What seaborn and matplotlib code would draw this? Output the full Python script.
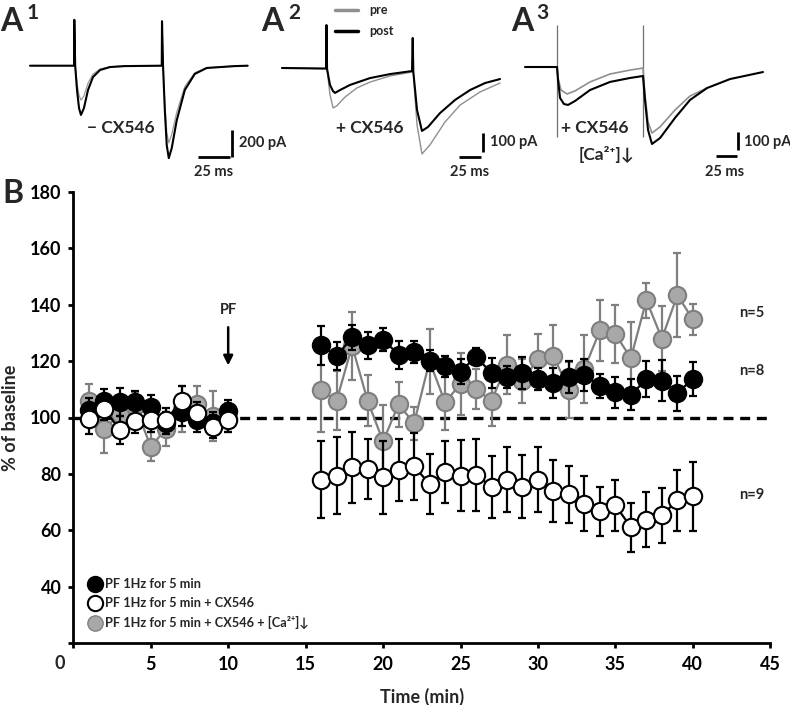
import numpy as np
import pandas as pd
import matplotlib
matplotlib.use("Agg")
import matplotlib.pyplot as plt
from matplotlib.lines import Line2D
import seaborn as sns

# ---------------- data: panel B ----------------
time_pre = [1, 2, 3, 4, 5, 6, 7, 8, 9, 10]
time_post = list(range(16, 41))

black_pre = [102.8, 106.0, 105.4, 105.4, 103.9, 98.0, 101.9, 99.0, 98.0, 102.3]
black_pre_err = [4, 4, 5, 4, 4, 4, 5, 4, 4, 4]
white_pre = [99.3, 103.0, 95.6, 98.6, 99.0, 99.2, 106.0, 101.5, 96.8, 99.0]
white_pre_err = [5, 4, 5, 4, 4, 4, 5, 4, 4, 4]
gray_pre = [106.0, 95.9, 101.3, 104.0, 89.7, 96.0, 103.0, 104.7, 100.5, 100.0]
gray_pre_err = [6, 8.5, 6, 5, 5, 6, 8, 6.5, 9, 5]

black_post = [125.6, 121.8, 128.4, 125.6, 127.6, 122.3, 123.2, 120.2, 118.1, 116.3,
              121.6, 115.7, 114.3, 115.7, 113.7, 112.1, 114.5, 115.1, 111.3, 108.9,
              108.0, 113.6, 113.1, 108.6, 113.8]
black_post_err = [6.8, 5, 4.4, 4.7, 4.1, 5, 4, 3.8, 3.8, 4.5, 3, 5.3, 4, 5.7, 4,
                  5.3, 5.7, 5.6, 4.3, 5.5, 5.5, 6.3, 7.3, 6.3, 6]
gray_post = [109.8, 106.0, 125.4, 106.0, 91.5, 104.7, 97.9, 120.0, 105.4, 111.9,
             110.1, 106.0, 118.8, 112.9, 120.8, 121.8, 109.8, 117.3, 130.9, 129.5,
             121.1, 141.6, 128.0, 143.4, 134.8]
gray_post_err = [15, 10.6, 12, 9, 13, 8, 6, 11.5, 10, 11, 7, 9, 10.5, 7.7, 9, 11,
                 10, 12, 10.7, 10.3, 12.8, 6.2, 11.5, 15, 5.6]
white_post = [78.0, 79.4, 82.4, 81.8, 78.8, 81.4, 82.7, 76.4, 80.6, 79.4, 79.6, 75.5,
              78.0, 75.5, 78.0, 73.9, 72.7, 69.4, 66.8, 68.8, 61.1, 63.8, 65.3, 70.6, 72.0]
white_post_err = [13.6, 13.6, 12.6, 10.6, 13, 11, 11.9, 10.5, 10.9, 12.7, 12.6, 11,
                  11.7, 11.2, 11.5, 10.9, 10.2, 9.7, 8.7, 9.2, 8.7, 9.8, 9.8, 10.7, 12.3]

legend_labels = ["PF 1Hz for 5 min", "PF 1Hz for 5 min + CX546",
                 "PF 1Hz for 5 min + CX546 + [Ca²⁺]↓"]
n_labels = ["n=5", "n=8", "n=9"]
n_label_y = [137.0, 116.5, 72.5]
x_ticks = [0, 5, 10, 15, 20, 25, 30, 35, 40, 45]
y_ticks = [20, 40, 60, 80, 100, 120, 140, 160, 180]

# ---------------- data: traces (ms, pA) ----------------
A1_t = [0, 34.4, 34.6, 35.3, 36.7, 38.3, 39.8, 42.1, 45.3, 49.2, 54.7, 62.5, 74.0,
        102.9, 103.1, 103.9, 105.3, 106.8, 108.4, 110.7, 114.6, 120.9, 128.7, 138.0, 160.0, 170.0]
A1_black = [0, 0, 340, 0, -180, -315, -365, -315, -180, -84, -32, -10, -3,
            0, 330, 0, -330, -590, -685, -610, -405, -180, -61, -17, -3, 0]
A1_gray = [0, 0, 330, 0, -130, -220, -255, -225, -130, -62, -25, -8, -2,
           0, 320, 0, -280, -495, -572, -510, -345, -155, -52, -15, -2, 0]

A2_t_black = [0, 50.0, 50.5, 51.2, 54.5, 57.9, 60.2, 65.9, 77.3, 100.0, 122.7, 147.7,
              148.5, 149.2, 153.4, 159.0, 165.9, 179.5, 196.6, 213.6, 230.7, 247.7]
A2_black = [0, -3, 226, -5, -89, -121, -131, -116, -89, -53, -32, -16,
            158, -21, -221, -331, -310, -237, -168, -116, -79, -58]
A2_t_gray = [0, 50.0, 50.5, 51.2, 54.5, 58.0, 62.0, 71.6, 85.0, 100.0, 122.7, 147.7,
             148.5, 149.2, 153.4, 159.0, 168.0, 185.2, 202.3, 225.0, 247.7]
A2_gray = [0, -3, 220, -8, -140, -210, -200, -153, -105, -74, -42, -21,
           150, -25, -300, -452, -405, -284, -195, -126, -79]

A3_t_black = [0, 38.1, 39.3, 41.7, 46.4, 51.2, 59.5, 77.4, 101.2, 125.0, 140.4, 142.8,
              146.4, 151.1, 160.7, 178.5, 196.4, 216.6, 244.0, 283.2]
A3_black = [0, 0, -72, -172, -206, -211, -189, -128, -83, -61, -50, -183,
            -350, -428, -395, -283, -183, -117, -67, -28]
A3_t_gray = [38.1, 39.3, 42.8, 50.0, 59.5, 77.4, 101.2, 125.0, 140.4, 142.8, 146.4,
             151.1, 160.7, 178.5, 196.4, 216.6]
A3_gray = [0, -61, -128, -150, -133, -83, -39, -17, -6, -156, -306, -367, -333,
           -239, -161, -117]
A3_artifact_t = [38.1, 140.4]

# ---------------- style ----------------
sns.set_theme(style="ticks")
plt.rcParams['font.family'] = ['Lato', 'DejaVu Sans']
plt.rcParams['font.weight'] = 'bold'
plt.rcParams['axes.labelweight'] = 'bold'

W, H = 790, 705
fig = plt.figure(figsize=(W / 100, H / 100), dpi=100)

BLACK = "#000000"
GRAY_FACE = "#a8a8a8"
GRAY_EDGE = "#7f7f7f"

# ---------------- panel B ----------------
ax = fig.add_axes([73.3 / W, (H - 643) / H, 697 / W, 451 / H])

def make_df(pre, pre_err, post, post_err):
    d1 = pd.DataFrame({"t": time_pre, "v": pre, "e": pre_err, "seg": "pre"})
    d2 = pd.DataFrame({"t": time_post, "v": post, "e": post_err, "seg": "post"})
    return pd.concat([d1, d2], ignore_index=True)

df_black = make_df(black_pre, black_pre_err, black_post, black_post_err)
df_white = make_df(white_pre, white_pre_err, white_post, white_post_err)
df_gray = make_df(gray_pre, gray_pre_err, gray_post, gray_post_err)

ax.hlines(100, 0, 45, colors="black", linestyles=(0, (3, 2)), lw=2.4, zorder=1)

series = [
    (df_gray, GRAY_FACE, GRAY_EDGE, GRAY_EDGE, 2),
    (df_black, BLACK, BLACK, BLACK, 4),
    (df_white, "white", BLACK, BLACK, 6),
]
for d, face, edge, ecol, z in series:
    ax.errorbar(d["t"], d["v"], yerr=d["e"], fmt="none", ecolor=ecol,
                elinewidth=1.6, capsize=2.6, capthick=1.6, zorder=z - 0.5)
    sns.lineplot(data=d, x="t", y="v", units="seg", estimator=None, ax=ax,
                 color=edge, lw=1.6, marker="o", markersize=12.5,
                 markerfacecolor=face, markeredgecolor=edge, markeredgewidth=1.5,
                 zorder=z, legend=False)

ax.set_xlim(0, 45)
ax.set_ylim(20, 180)
ax.set_xticks(x_ticks)
ax.set_xticklabels([""] + [str(v) for v in x_ticks[1:]])
ax.set_yticks(y_ticks)
ax.set_yticklabels([""] + [str(v) for v in y_ticks[1:]])
ax.text(-0.86, -0.045, "0", transform=ax.get_xaxis_transform(), ha="center",
        va="center", fontsize=13, fontweight="bold")
for s in ["top", "right"]:
    ax.spines[s].set_visible(False)
for s in ["left", "bottom"]:
    ax.spines[s].set_linewidth(2.0)
    ax.spines[s].set_color("black")
ax.tick_params(axis="both", direction="out", length=3.5, width=2.0, colors="black",
               labelsize=13, pad=5)
ax.tick_params(axis="x", pad=6)
for lab in ax.get_xticklabels() + ax.get_yticklabels():
    lab.set_fontweight("bold")
ax.set_xlabel("Time (min)", fontsize=13, fontweight="bold")
ax.set_ylabel("% of baseline", fontsize=13, fontweight="bold")
ax.xaxis.set_label_coords(0.5, -0.1)
ax.yaxis.set_label_coords(-0.078, 0.5)
ax.set_facecolor("white")

ax.text(10, 138, "PF", ha="center", va="center", fontsize=10.5, fontweight="bold")
ax.annotate("", xy=(10, 117.5), xytext=(10, 133),
            arrowprops=dict(arrowstyle="-|>", color="black", lw=1.8, mutation_scale=14))
for lab, yv in zip(n_labels, n_label_y):
    ax.text(43.0, yv, lab, ha="left", va="center", fontsize=10.5, fontweight="bold")

handles = [
    Line2D([], [], ls="none", marker="o", markersize=11, mfc=BLACK, mec=BLACK, mew=1.5),
    Line2D([], [], ls="none", marker="o", markersize=11, mfc="white", mec=BLACK, mew=1.5),
    Line2D([], [], ls="none", marker="o", markersize=11, mfc=GRAY_FACE, mec=GRAY_EDGE, mew=1.0),
]
leg = ax.legend(handles, legend_labels, loc="lower left", bbox_to_anchor=(0.022, 0.03),
                frameon=False, fontsize=9.2, handlelength=1.0, handletextpad=0.3,
                labelspacing=0.55, borderaxespad=0, borderpad=0)
for t in leg.get_texts():
    t.set_fontweight("bold")

fig.text(2 / W, 1 - 203 / H, "B", fontsize=23, fontweight="bold", ha="left", va="baseline")

# ---------------- panel A traces ----------------
def trace_axes(x0, y0, ms_pp, pa_pp):
    a = fig.add_axes([0, (H - 190) / H, 1, 190 / H])
    a.set_xlim(-x0 * ms_pp, (W - x0) * ms_pp)
    a.set_ylim(-(190 - y0) * pa_pp, y0 * pa_pp)
    a.axis("off")
    a.patch.set_alpha(0)
    return a

def scale_bar(a, xv, yv_top, yv_bot, xh0, xh1, yh, txt_v, tv_xy, txt_h, th_xy):
    a.plot([xv, xv], [yv_top, yv_bot], color="black", lw=2.0, solid_capstyle="butt")
    a.plot([xh0, xh1], [yh, yh], color="black", lw=2.0, solid_capstyle="butt")
    a.text(tv_xy[0], tv_xy[1], txt_v, ha="left", va="center", fontsize=10.5, fontweight="bold")
    a.text(th_xy[0], th_xy[1], txt_h, ha="center", va="center", fontsize=10.5, fontweight="bold")

# A1
a1 = trace_axes(30, 65.7, 0.781, 7.41)
sns.lineplot(x=A1_t, y=A1_gray, ax=a1, color="#9a9a9a", lw=0.9, sort=False, estimator=None)
sns.lineplot(x=A1_t, y=A1_black, ax=a1, color="black", lw=1.5, sort=False, estimator=None)
a1.text(70.7, -462, "− CX546", ha="center", va="center", fontsize=12.5, fontweight="bold")
scale_bar(a1, 157.8, -476, -676, 131.2, 156.2, -676, "200 pA", (163, -573), "25 ms", (143, -787))

# A2
a2 = trace_axes(282, 68, 1.136, 5.26)
sns.lineplot(x=A2_t_gray, y=A2_gray, ax=a2, color="#8f8f8f", lw=1.0, sort=False, estimator=None)
sns.lineplot(x=A2_t_black, y=A2_black, ax=a2, color="black", lw=1.5, sort=False, estimator=None)
a2.text(100, -316, "+ CX546", ha="center", va="center", fontsize=12.5, fontweight="bold")
scale_bar(a2, 228.4, -342, -442, 201, 226, -468, "100 pA", (236.3, -389), "25 ms", (213.6, -547))
lh = [Line2D([], [], color="#8f8f8f", lw=2.5), Line2D([], [], color="black", lw=2.5)]
lg2 = a2.legend(lh, ["pre", "post"], loc="upper left", bbox_to_anchor=(335 / W, 1 - 4 / 190),
                bbox_transform=a2.transAxes, frameon=False, fontsize=9, handlelength=1.8,
                handletextpad=0.9, labelspacing=0.75, borderpad=0, borderaxespad=0)
for t in lg2.get_texts():
    t.set_fontweight("bold")

# A3
a3 = trace_axes(525, 67, 1.19, 5.56)
a3.vlines(A3_artifact_t, -389, 233, colors="#6f6f6f", lw=0.9)
sns.lineplot(x=A3_t_gray, y=A3_gray, ax=a3, color="#8f8f8f", lw=1.2, sort=False, estimator=None)
sns.lineplot(x=A3_t_black, y=A3_black, ax=a3, color="black", lw=1.5, sort=False, estimator=None)
a3.text(83.3, -339, "+ CX546", ha="center", va="center", fontsize=12.5, fontweight="bold")
a3.text(96.4, -484, "[Ca²⁺]↓", ha="center", va="center", fontsize=12.5, fontweight="bold")
scale_bar(a3, 253.5, -361, -461, 227.3, 252.3, -495, "100 pA", (260.6, -417), "25 ms", (238, -584))

# panel letters
for xl, xs, sup in [(0, 27, "1"), (261, 288, "2"), (511, 536, "3")]:
    fig.text(xl / W, 1 - 31 / H, "A", fontsize=23, fontweight="bold", ha="left", va="baseline")
    fig.text(xs / W, 1 - 19 / H, sup, fontsize=15, fontweight="bold", ha="left", va="baseline")

fig.savefig("out.png", dpi=100, facecolor="white")
